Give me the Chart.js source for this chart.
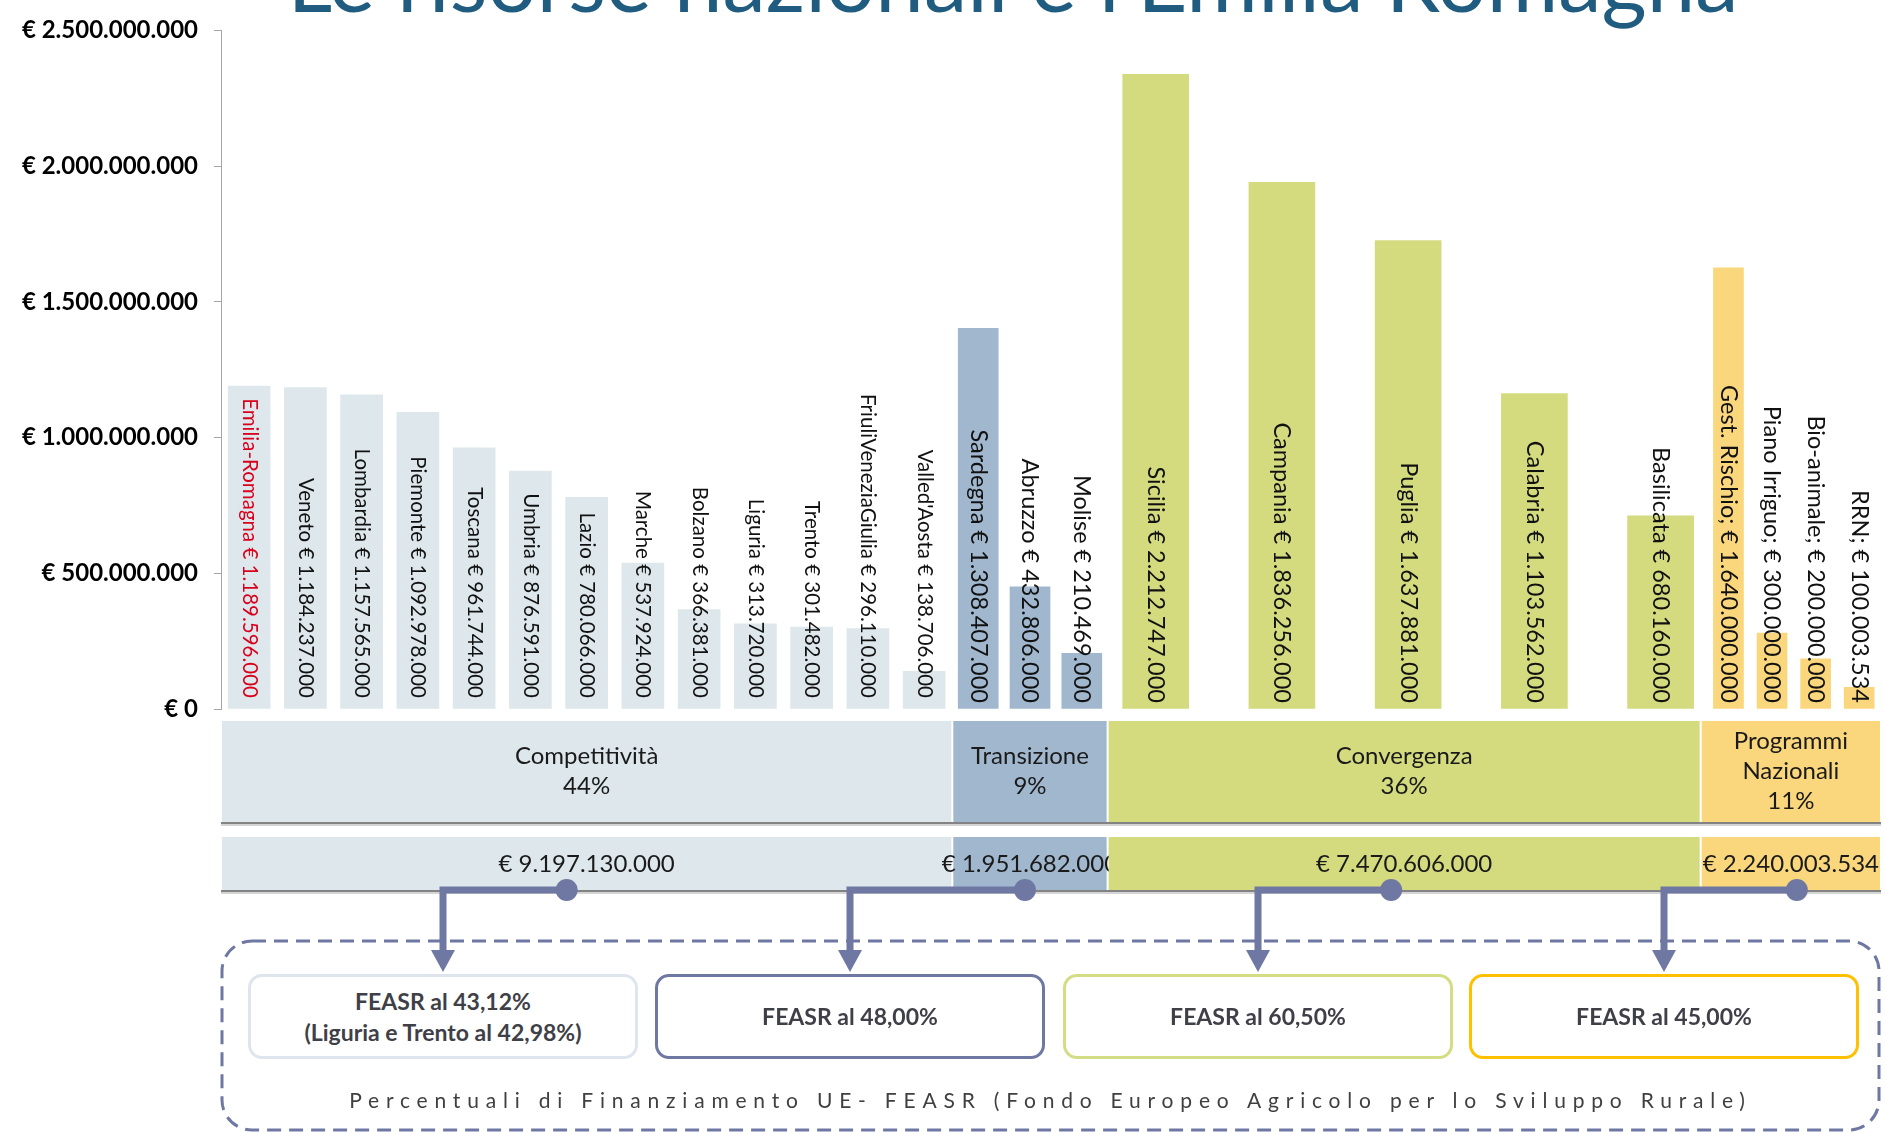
<!DOCTYPE html>
<html>
<head>
<meta charset="utf-8">
<script src="https://cdn.jsdelivr.net/npm/chart.js@4.4.0/dist/chart.umd.min.js"></script>
<style>
  body { margin: 0; background: #fff; }
  #wrap { position: relative; width: 1885px; height: 1132px; overflow: hidden; font-family: Lato, "Open Sans", sans-serif; }
  #chart { position: absolute; left: 0; top: 0; }
  .box {
    position: absolute; top: 974px; width: 390px; height: 85px; box-sizing: border-box;
    border: 3px solid; border-radius: 14px; background: #fff;
    display: flex; align-items: center; justify-content: center; text-align: center;
    font-weight: bold; font-size: 23px; line-height: 31px; color: #3f3f48;
  }
  #caption {
    position: absolute; left: 222px; width: 1657px; top: 1087px; text-align: center;
    font-size: 21px; letter-spacing: 6.8px; color: #404040;
  }
</style>
</head>
<body>
<div id="wrap">
  <canvas id="chart" width="1885" height="1132"></canvas>
  <div id="boxes"></div>
  <div id="caption">Percentuali di Finanziamento UE- FEASR (Fondo Europeo Agricolo per lo Sviluppo Rurale)</div>
</div>
<script>
// ==============================
// Data (euro)
// ==============================
const compNames = ["Emilia-Romagna", "Veneto", "Lombardia", "Piemonte", "Toscana", "Umbria", "Lazio",
  "Marche", "Bolzano", "Liguria", "Trento", "FriuliVeneziaGiulia", "Valled'Aosta"];
const compValues = [1189596000, 1184237000, 1157565000, 1092978000, 961744000, 876591000, 780066000,
  537924000, 366381000, 313720000, 301482000, 296110000, 138706000];

const transNames = ["Sardegna", "Abruzzo", "Molise"];
const transValues = [1402000000, 450000000, 205000000];      // bar heights as drawn
const transLabels = [1308407000, 432806000, 210469000];      // amounts written on the bars

const convNames = ["Sicilia", "Campania", "Puglia", "Calabria", "Basilicata"];
const convValues = [2338000000, 1940000000, 1726000000, 1162000000, 712000000];
const convLabels = [2212747000, 1836256000, 1637881000, 1103562000, 680160000];

const pnNames = ["Gest. Rischio;", "Piano Irriguo;", "Bio-animale;", "RRN;"];
const pnValues = [1625000000, 280000000, 185000000, 80000000];
const pnLabels = [1640000000, 300000000, 200000000, 100003534];

const groupTitles = [["Competitività", "44%"], ["Transizione", "9%"], ["Convergenza", "36%"], ["Programmi", "Nazionali", "11%"]];
const groupTotals = [9197130000, 1951682000, 7470606000, 2240003534];
const feasrTexts = [["FEASR al 43,12%", "(Liguria e Trento al 42,98%)"], ["FEASR al 48,00%"], ["FEASR al 60,50%"], ["FEASR al 45,00%"]];

const yMax = 2500000000;
const yStep = 500000000;

// ==============================
// Layout / styles
// ==============================
const groupSpans = [730, 155, 592, 180];   // width of each block on the x scale
const slotSpans = [56.15, 51.7, 126, 43.5]; // distance between bars inside a block
const slotShift = [0, 0, -15, 6];           // where the first slot starts inside its block
const groupColors = ["#dde7ec", "#a0b7ce", "#d4db7e", "#fad77c"];
const barWidths = [42, 40, 66, 30];
const labelFonts = ["20.5px Lato", "23.5px Lato", "23.5px Lato", "23.5px Lato"];
const boxLefts = [248, 655, 1063, 1469];
const boxBorders = ["#dfe5ee", "#6e78a3", "#d4dc84", "#ffc000"];
const dotShift = [-20, -5, -13, 6];
const arrowColor = "#6e78a3";

function fmt(n) {
  return String(n).replace(/\B(?=(\d{3})+(?!\d))/g, ".");
}

const groupStarts = [];
let acc = 0;
groupSpans.forEach(w => { groupStarts.push(acc); acc += w; });
const xMax = acc;

function points(g, values) {
  const slot = slotSpans[g];
  return values.map((v, i) => ({ x: groupStarts[g] + slotShift[g] + (i + 0.5) * slot, y: v }));
}

const groups = [
  { names: compNames, values: compValues, labels: compValues },
  { names: transNames, values: transValues, labels: transLabels },
  { names: convNames, values: convValues, labels: convLabels },
  { names: pnNames, values: pnValues, labels: pnLabels }
];

// FEASR boxes (html text)
const boxesEl = document.getElementById("boxes");
feasrTexts.forEach((lines, i) => {
  const d = document.createElement("div");
  d.className = "box";
  d.style.left = boxLefts[i] + "px";
  d.style.borderColor = boxBorders[i];
  d.innerHTML = lines.join("<br>");
  boxesEl.appendChild(d);
});

const decor = {
  id: "decor",
  afterDatasetsDraw(chart) {
    const ctx = chart.ctx;
    const y0 = chart.scales.y.getPixelForValue(0);
    chart.data.datasets.forEach((ds, g) => {
      const meta = chart.getDatasetMeta(g);
      meta.data.forEach((bar, i) => {
        const grp = groups[g];
        const text = grp.names[i] + " € " + fmt(grp.labels[i]);
        ctx.save();
        ctx.translate(bar.x, y0 - (g === 0 ? 11 : 6));
        ctx.rotate(Math.PI / 2);
        ctx.font = labelFonts[g];
        ctx.fillStyle = (g === 0 && i === 0) ? "#d9001b" : "#111";
        ctx.textAlign = "right";
        ctx.textBaseline = "middle";
        ctx.fillText(text, 0, 0);
        ctx.restore();
      });
    });
  },
  afterDraw(chart) {
    const ctx = chart.ctx;
    const xs = chart.scales.x;
    ctx.save();

    // title, cut by the top edge
    ctx.font = "87px Lato";
    ctx.fillStyle = "#1f5c80";
    ctx.textAlign = "center";
    ctx.textBaseline = "alphabetic";
    ctx.fillText("Le risorse nazionali e l'Emilia Romagna", 1013, 12);

    const rows = [[721, 822], [837, 890]];
    const centers = [];
    groupSpans.forEach((w, g) => {
      const left = xs.getPixelForValue(groupStarts[g]);
      const right = xs.getPixelForValue(groupStarts[g] + w);
      centers.push((left + right) / 2);
      rows.forEach(r => {
        ctx.fillStyle = groupColors[g];
        ctx.fillRect(left + 1, r[0], right - left - 2, r[1] - r[0]);
      });
      // group name and share
      ctx.fillStyle = "#1a1a1a";
      ctx.font = "24px Lato";
      ctx.textAlign = "center";
      ctx.textBaseline = "middle";
      const lines = groupTitles[g];
      const lh = 30;
      const mid = (rows[0][0] + rows[0][1]) / 2;
      lines.forEach((t, k) => {
        ctx.fillText(t, (left + right) / 2, mid + (k - (lines.length - 1) / 2) * lh);
      });
      ctx.fillText("€ " + fmt(groupTotals[g]), (left + right) / 2, (rows[1][0] + rows[1][1]) / 2 + 1);
    });

    // row shadows
    const l = xs.left, r = xs.right;
    rows.forEach(rw => {
      ctx.fillStyle = "rgba(90,90,90,0.75)";
      ctx.fillRect(l, rw[1], r - l, 2);
      ctx.fillStyle = "rgba(150,150,150,0.4)";
      ctx.fillRect(l, rw[1] + 2, r - l, 2);
    });

    // dashed frame
    ctx.strokeStyle = arrowColor;
    ctx.lineWidth = 3;
    ctx.setLineDash([14, 8]);
    ctx.beginPath();
    ctx.roundRect(222, 941, 1657, 189, 30);
    ctx.stroke();
    ctx.setLineDash([]);

    // arrows from totals to FEASR boxes
    centers.forEach((c, g) => {
      const cx = c + dotShift[g];
      const bx = boxLefts[g] + 195;
      const cy = 890;
      ctx.strokeStyle = arrowColor;
      ctx.fillStyle = arrowColor;
      ctx.lineWidth = 7;
      ctx.lineJoin = "miter";
      ctx.beginPath();
      ctx.moveTo(cx, cy);
      ctx.lineTo(bx, cy);
      ctx.lineTo(bx, 952);
      ctx.stroke();
      ctx.beginPath();
      ctx.moveTo(bx - 12, 950);
      ctx.lineTo(bx + 12, 950);
      ctx.lineTo(bx, 972);
      ctx.closePath();
      ctx.fill();
      ctx.beginPath();
      ctx.arc(cx, cy, 11, 0, Math.PI * 2);
      ctx.fill();
    });
    ctx.restore();
  }
};

new Chart(document.getElementById("chart"), {
  type: "bar",
  data: {
    datasets: groups.map((grp, g) => ({
      data: points(g, grp.values),
      backgroundColor: groupColors[g],
      barThickness: barWidths[g],
      grouped: false,
      borderWidth: 0
    }))
  },
  options: {
    responsive: false,
    animation: false,
    layout: { padding: { top: 22, right: 4, bottom: 423, left: 0 } },
    plugins: { legend: { display: false }, tooltip: { enabled: false } },
    scales: {
      x: { type: "linear", min: 0, max: xMax, offset: false, display: false },
      y: {
        min: 0,
        max: yMax,
        afterFit(scale) { scale.width = 221; },
        ticks: {
          stepSize: yStep,
          padding: 16,
          color: "#000",
          font: { family: "Lato", size: 24, weight: "bold" },
          callback: v => "€ " + fmt(v)
        },
        grid: { drawOnChartArea: false, tickLength: 7, color: "#a6a6a6" },
        border: { color: "#a6a6a6" }
      }
    }
  },
  plugins: [decor]
});
</script>
</body>
</html>
